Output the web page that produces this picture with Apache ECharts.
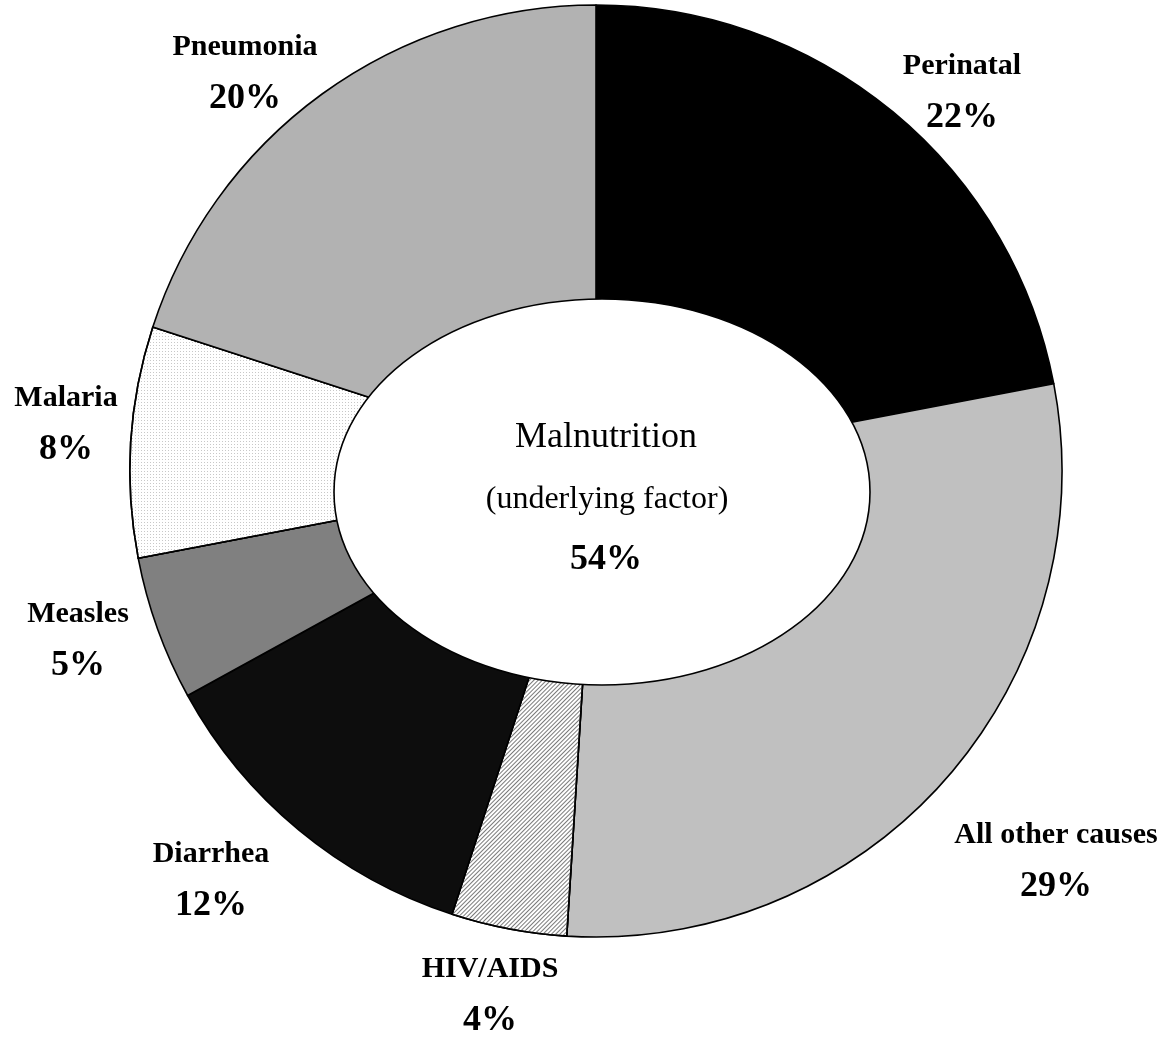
<!DOCTYPE html>
<html>
<head>
<meta charset="utf-8">
<script src="https://cdn.jsdelivr.net/npm/echarts@6/dist/echarts.min.js"></script>
<style>
html,body{margin:0;padding:0;background:#fff;}
#chart{width:1172px;height:1037px;}
</style>
</head>
<body>
<div id="chart"></div>
<script>
// ---- data ----
var categories = ['Perinatal', 'All other causes', 'HIV/AIDS', 'Diarrhea', 'Measles', 'Malaria', 'Pneumonia'];
var values = [22, 29, 4, 12, 5, 8, 20];
var centerTitle = 'Malnutrition';
var centerSubtitle = '(underlying factor)';
var centerValue = 54;

// ---- styles / layout (kept apart from data) ----
var sliceColors = ['#000000', '#c0c0c0', '#ffffff', '#0d0d0d', '#808080', '#ffffff', '#b2b2b2'];
var sliceDecals = [
  null,
  null,
  {symbol: 'rect', symbolSize: 1, dashArrayX: [1, 0], dashArrayY: [1, 2], rotation: -Math.PI / 4, color: '#7a7a7a'},
  null,
  null,
  {symbol: 'rect', symbolSize: 1, dashArrayX: [1, 2], dashArrayY: [1, 2], color: '#c8c8c8'},
  null
];
var labelPos = [
  [962, 92], [1056, 861], [490, 995], [211, 880], [78, 640], [66, 424], [245, 73]
];

var serif = '"Liberation Serif", "Times New Roman", "DejaVu Serif", serif';

var chart = echarts.init(document.getElementById('chart'));
var seriesData = categories.map(function (c, i) {
  var it = {name: c, value: values[i], itemStyle: {color: sliceColors[i]}};
  if (sliceDecals[i]) it.itemStyle.decal = sliceDecals[i];
  return it;
});

chart.setOption({
  animation: false,
  backgroundColor: '#ffffff',
  series: [{
    type: 'pie',
    center: [596, 471],
    radius: [0, 466],
    startAngle: 90,
    clockwise: true,
    avoidLabelOverlap: false,
    silent: true,
    itemStyle: {borderColor: '#000', borderWidth: 1.6},
    label: {
      show: true,
      position: 'outside',
      formatter: '{n|{b}}\n{p|{c}%}',
      fontFamily: serif,
      color: '#000',
      rich: {
        n: {fontFamily: serif, fontWeight: 'bold', fontSize: 30, lineHeight: 52, color: '#000', align: 'center'},
        p: {fontFamily: serif, fontWeight: 'bold', fontSize: 36, lineHeight: 52, color: '#000', align: 'center'}
      }
    },
    labelLine: {show: false},
    labelLayout: function (params) {
      var p = labelPos[params.dataIndex];
      return {x: p[0], y: p[1], align: 'center', verticalAlign: 'middle'};
    },
    data: seriesData
  }],
  graphic: [
    {type: 'ellipse', z: 100, shape: {cx: 602, cy: 492, rx: 268, ry: 193},
      style: {fill: '#ffffff', stroke: '#000', lineWidth: 1.6}},
    {type: 'text', z: 101, x: 606, y: 438,
      style: {text: centerTitle, font: '36px ' + serif, fill: '#000', textAlign: 'center', textVerticalAlign: 'middle'}},
    {type: 'text', z: 101, x: 607, y: 500,
      style: {text: centerSubtitle, font: '32px ' + serif, fill: '#000', textAlign: 'center', textVerticalAlign: 'middle'}},
    {type: 'text', z: 101, x: 606, y: 560,
      style: {text: centerValue + '%', font: 'bold 36px ' + serif, fill: '#000', textAlign: 'center', textVerticalAlign: 'middle'}}
  ]
});
</script>
</body>
</html>
